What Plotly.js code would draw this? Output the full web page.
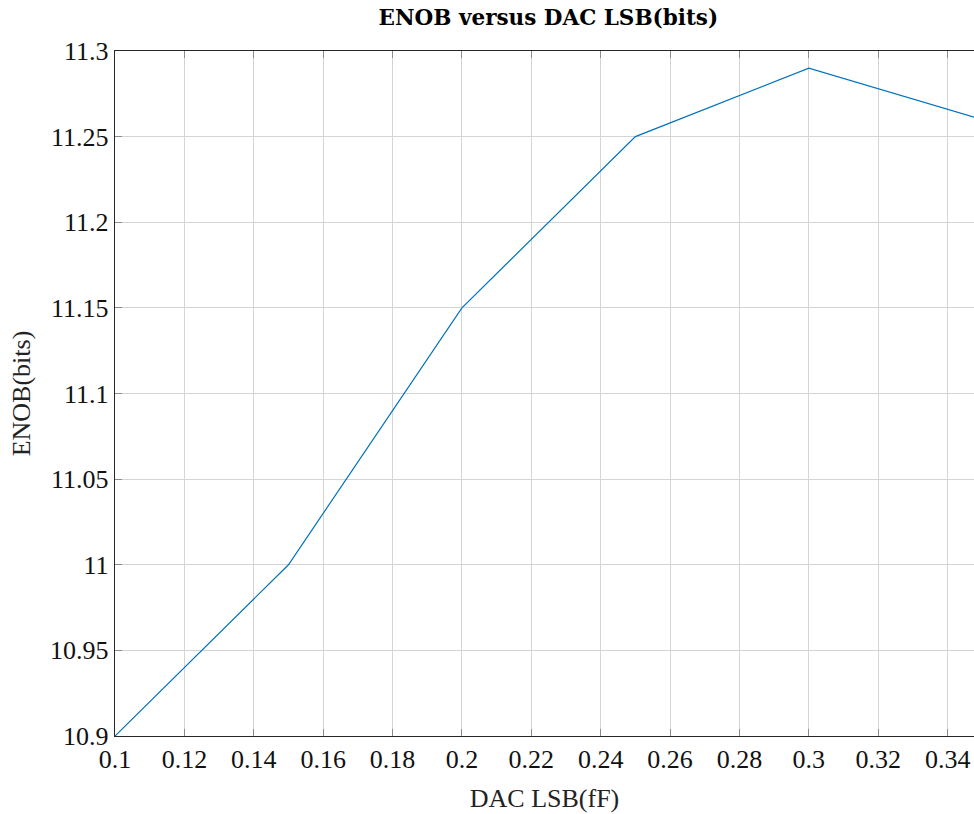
<!DOCTYPE html>
<html><head><meta charset="utf-8">
<script src="https://cdn.plot.ly/plotly-3.0.1.min.js"></script>
<style>html,body{margin:0;padding:0;background:#fff}#chart{width:974px;height:814px}</style>
</head><body><div id="chart"></div>
<script>
const lsb = [0.1, 0.15, 0.2, 0.25, 0.3, 0.35];
const enob = [10.9, 11.0, 11.15, 11.25, 11.29, 11.26];
const xTicks = [0.1,0.12,0.14,0.16,0.18,0.2,0.22,0.24,0.26,0.28,0.3,0.32,0.34];
const yTicks = [10.9,10.95,11,11.05,11.1,11.15,11.2,11.25,11.3];
const fontFam = "Liberation Serif, DejaVu Serif, serif";
Plotly.newPlot('chart', [{
  x: lsb, y: enob, type: 'scatter', mode: 'lines',
  line: {color: '#0072BD', width: 1.2}, cliponaxis: true
}], {
  width: 974, height: 814,
  margin: {l: 115, r: 0, t: 51, b: 78},
  paper_bgcolor: '#fff', plot_bgcolor: '#fff',
  showlegend: false,
  title: {text: '<b>ENOB versus DAC LSB(bits)</b>', font: {family: "DejaVu Serif, serif", size: 21.5, color: '#000'}, x: 0.563, xanchor: 'center', y: 0.979, yanchor: 'middle'},
  xaxis: {
    range: [0.1, 0.3476], tickvals: xTicks, ticktext: xTicks.map(String),
    showgrid: true, gridcolor: '#d4d4d4', gridwidth: 1,
    showline: true, linecolor: '#262626', linewidth: 1.2, mirror: 'ticks',
    ticks: 'inside', ticklen: 7, tickcolor: '#8c8c8c', tickwidth: 1,
    zeroline: false,
    tickfont: {family: fontFam, size: 26, color: '#111'},
    title: {text: 'DAC LSB(fF)', font: {family: fontFam, size: 26, color: '#222'}, standoff: 15}
  },
  yaxis: {
    range: [10.9, 11.3], tickvals: yTicks, ticktext: yTicks.map(String),
    showgrid: true, gridcolor: '#d4d4d4', gridwidth: 1,
    showline: true, linecolor: '#262626', linewidth: 1.2,
    ticks: 'inside', ticklen: 7, tickcolor: '#8c8c8c', tickwidth: 1,
    zeroline: false,
    tickfont: {family: fontFam, size: 26, color: '#111'},
    title: {text: 'ENOB(bits)', font: {family: fontFam, size: 26, color: '#222'}, standoff: 12}
  }
}, {displayModeBar: false, staticPlot: true});
</script></body></html>
